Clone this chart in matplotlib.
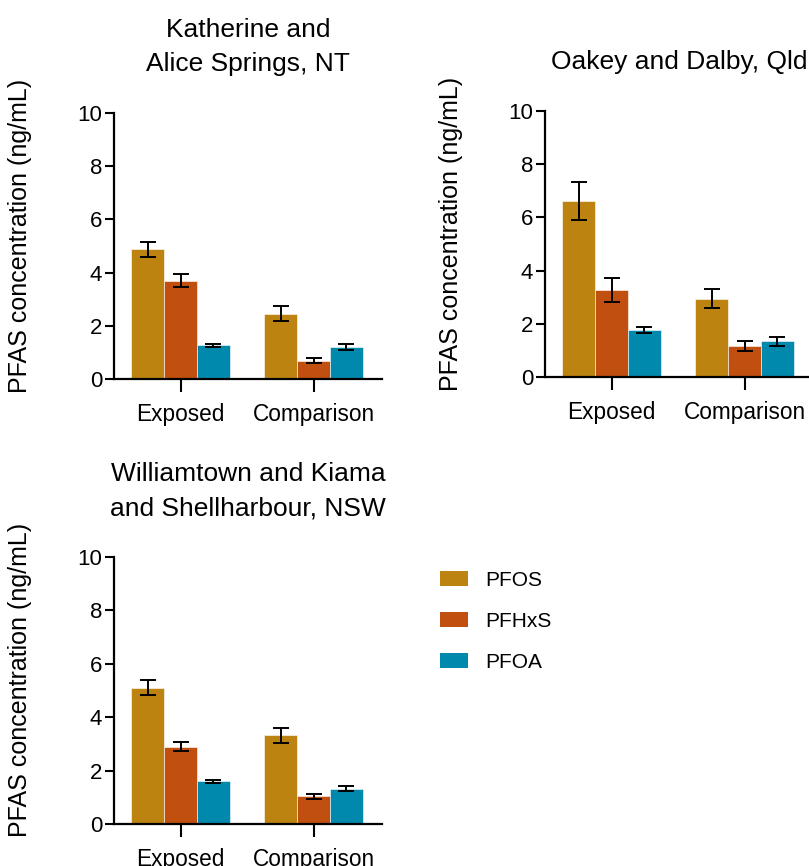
import numpy as np
import matplotlib
matplotlib.use("Agg")
import matplotlib.pyplot as plt
from matplotlib.patches import Patch

plt.rcParams['font.family'] = ['Liberation Sans', 'DejaVu Sans']

groups = ['Exposed', 'Comparison']
compounds = ['PFOS', 'PFHxS', 'PFOA']
colors = ['#BD8311', '#C04F10', '#0089AD']

# means / standard errors per compound, [Exposed, Comparison]
nt_mean = {'PFOS': [4.87, 2.46], 'PFHxS': [3.70, 0.69], 'PFOA': [1.27, 1.20]}
nt_err = {'PFOS': [0.27, 0.28], 'PFHxS': [0.25, 0.10], 'PFOA': [0.06, 0.12]}
qld_mean = {'PFOS': [6.62, 2.95], 'PFHxS': [3.27, 1.15], 'PFOA': [1.76, 1.34]}
qld_err = {'PFOS': [0.72, 0.37], 'PFHxS': [0.44, 0.19], 'PFOA': [0.11, 0.16]}
nsw_mean = {'PFOS': [5.11, 3.32], 'PFHxS': [2.90, 1.03], 'PFOA': [1.60, 1.32]}
nsw_err = {'PFOS': [0.28, 0.27], 'PFHxS': [0.17, 0.09], 'PFOA': [0.05, 0.085]}

titles = ['Katherine and\nAlice Springs, NT',
          'Oakey and Dalby, Qld',
          'Williamtown and Kiama\nand Shellharbour, NSW']
yticks = [0, 2, 4, 6, 8, 10]

W, H = 809, 866
fig = plt.figure(figsize=(W / 100, H / 100), dpi=100)


def px_axes(left, top, right, bottom):
    return fig.add_axes([left / W, 1 - bottom / H, (right - left) / W, (bottom - top) / H])


def draw_panel(ax, means, errs, title):
    x = np.arange(len(groups))
    width = 0.248
    for i, comp in enumerate(compounds):
        ax.bar(x + (i - 1) * width, means[comp], width, yerr=errs[comp],
               color=colors[i], edgecolor='white', linewidth=0.4,
               error_kw=dict(ecolor='black', elinewidth=1.4, capsize=6, capthick=1.4))
    ax.set_xlim(-0.5, 1.515)
    ax.set_ylim(0, 10)
    ax.set_yticks(yticks)
    ax.set_xticks(x)
    ax.set_xticklabels(groups, fontsize=16.3)
    ax.tick_params(axis='y', labelsize=16, length=6.5, width=1.5, pad=2)
    ax.tick_params(axis='x', length=9, width=1.5, pad=8)
    for s in ['top', 'right']:
        ax.spines[s].set_visible(False)
    for s in ['left', 'bottom']:
        ax.spines[s].set_linewidth(1.6)
    ax.set_ylabel('PFAS concentration (ng/mL)', fontsize=18)
    ax.yaxis.set_label_coords(-0.305, 0.538)
    ax.set_title(title, fontsize=19, pad=30, linespacing=1.55)


ax1 = px_axes(114, 113, 382, 379)
draw_panel(ax1, nt_mean, nt_err, titles[0])

ax2 = px_axes(545, 111, 813, 377)
draw_panel(ax2, qld_mean, qld_err, titles[1])

ax3 = px_axes(114, 557, 382, 824)
draw_panel(ax3, nsw_mean, nsw_err, titles[2])

handles = [Patch(facecolor=c, edgecolor='none') for c in colors]
fig.legend(handles, compounds, loc='upper left', bbox_to_anchor=(440 / W, 1 - 571 / H),
           frameon=False, fontsize=15, handlelength=1.35, handleheight=0.72,
           handletextpad=0.8, labelspacing=1.05, borderpad=0, borderaxespad=0)

fig.savefig('out.png', dpi=100)
